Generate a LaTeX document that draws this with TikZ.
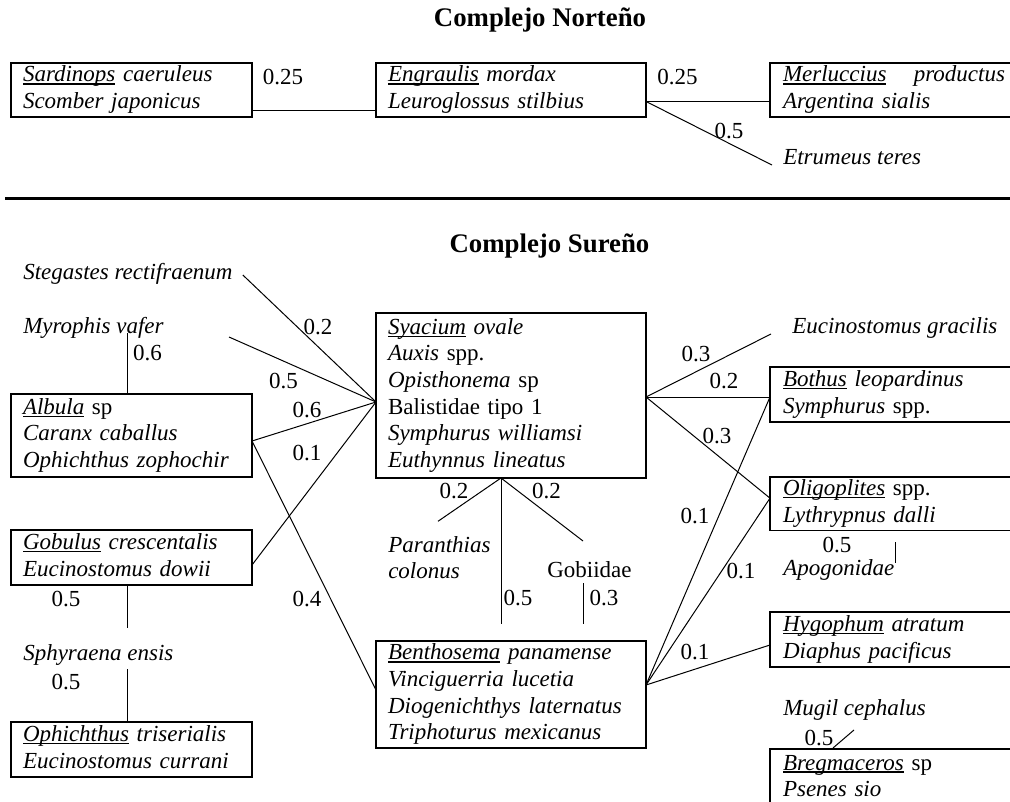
\documentclass[tikz,border=0pt]{standalone}
\usepackage{fontspec}
\setmainfont{Liberation Serif}
\usetikzlibrary{calc}
\newcommand\ulx[1]{\setbox0\hbox{#1}\rlap{\rule[-2pt]{\wd0}{0.9pt}}\box0\relax}
\begin{document}
\begin{tikzpicture}[x=0.75pt,y=-0.75pt,
  font=\fontsize{17.25}{20}\selectfont,
  box/.style={draw, line width=1pt, rectangle, anchor=north west, inner xsep=9pt, inner ysep=0pt, outer sep=0pt, align=left},
  lbox/.style={box, text width=162.75pt},
  cbox/.style={box, text width=184.5pt},
  rbox/.style={box, inner xsep=9.75pt, text width=175.5pt},
  lab/.style={inner sep=0pt, anchor=center},
  sp/.style={inner sep=0pt, anchor=base west},
  con/.style={line width=0.75pt},
  title/.style={font=\fontsize{20.1}{24}\selectfont\bfseries, inner sep=0pt}]
\useasboundingbox (0,0) rectangle (1010,802);
\clip (0,0) rectangle (1010,802);

% ---------- Complejo Norteno ----------
\node[title] (t1) at (540,20) {Complejo Norteño};
\node[lbox, minimum height=40.5pt] (sard) at (11,63) {\strut\textit{\ulx{Sardinops} caeruleus}\\\textit{Scomber japonicus}\strut};
\node[cbox, minimum height=40.5pt] (engr) at (376,63) {\strut\textit{\ulx{Engraulis} mordax}\\\textit{Leuroglossus stilbius}\strut};
\node[rbox, minimum height=40.5pt] (merl) at (770,63) {\strut\textit{\makebox[166.5pt][l]{\ulx{Merluccius}\hfill productus}}\\\textit{Argentina sialis}\strut};
\node[sp] (etru) at (783,165) {\textit{Etrumeus teres}};

\draw[con] ($(sard.south east)+(0,-6)$) -- ($(engr.south west)+(0,-6)$);
\draw[con] ($(engr.south east)+(0,-15)$) -- ($(merl.south west)+(0,-15)$);
\draw[con] ($(engr.south east)+(1,-15)$) -- ($(etru.base west)+(-11,0)$);

\node[lab] (n1) at (283,77) {0.25};
\node[lab] (n2) at (677.5,77) {0.25};
\node[lab] (n3) at (729,131) {0.5};

\draw[line width=2.25pt] (5,198.3) -- (1020,198.3);

% ---------- Complejo Sureno ----------
\node[title] (t2) at (549.5,246) {Complejo Sureño};
\node[cbox, minimum height=123.75pt] (sy) at (376,313) {\strut\textit{\ulx{Syacium} ovale}\\\textit{Auxis} spp.\\\textit{Opisthonema} sp\\Balistidae tipo 1\\\textit{Symphurus williamsi}\\\textit{Euthynnus lineatus}\strut};
\coordinate (syL) at ($(sy.west)+(0,6.5)$);
\coordinate (syR) at ($(sy.east)+(0,1.5)$);
\coordinate (syB) at ($(sy.south)+(-10,0)$);

% left
\node[sp] (steg) at (23,280) {\textit{Stegastes rectifraenum}};
\node[sp] (myro) at (23,333) {\textit{Myrophis vafer}};
\node[lbox, minimum height=62.25pt] (alb) at (11,394) {\strut\textit{\ulx{Albula}} sp\\\textit{Caranx caballus}\\\textit{Ophichthus zophochir}\strut};
\node[lbox, minimum height=41.25pt] (gob) at (11,530) {\strut\textit{\ulx{Gobulus} crescentalis}\\\textit{Eucinostomus dowii}\strut};
\node[sp] (sphy) at (23,660) {\textit{Sphyraena ensis}};
\node[lbox, minimum height=41.25pt] (oph) at (11,722) {\strut\textit{\ulx{Ophichthus} triserialis}\\\textit{Eucinostomus currani}\strut};

% center bottom
\node[anchor=north west, inner sep=0pt, align=left] (para) at (388,533.3) {\strut\textit{Paranthias}\\\textit{colonus}};
\node[sp] (gobi) at (547,577) {Gobiidae};
\node[cbox, minimum height=80.25pt] (bentho) at (376,641) {\strut\textit{\ulx{Benthosema} panamense}\\\textit{Vinciguerria lucetia}\\\textit{Diogenichthys laternatus}\\\textit{Triphoturus mexicanus}\strut};
\coordinate (bR) at ($(bentho.east)+(0,-9.5)$);

% right
\node[sp] (eucg) at (792,333) {\textit{Eucinostomus gracilis}};
\node[rbox, minimum height=41.25pt] (both) at (770,367) {\strut\textit{\ulx{Bothus} leopardinus}\\\textit{Symphurus} spp.\strut};
\node[rbox, minimum height=39.75pt] (olig) at (770,477) {\strut\textit{\ulx{Oligoplites}} spp.\\\textit{Lythrypnus dalli}\strut};
\node[sp] (apog) at (783,575) {\textit{Apogonidae}};
\node[rbox, minimum height=41.25pt] (hyg) at (770,612) {\strut\textit{\ulx{Hygophum} atratum}\\\textit{Diaphus pacificus}\strut};
\node[sp] (mugil) at (783,715) {\textit{Mugil cephalus}};
\node[rbox, minimum height=43.5pt] (breg) at (770,749) {\strut\textit{\ulx{Bregmaceros}} sp\\\textit{Psenes sio}\strut};
\coordinate (bothP) at ($(both.west)+(0,2.5)$);
\coordinate (oligP) at ($(olig.west)+(0,-5.5)$);

% connectors left
\draw[con] ($(steg.base east)+(10,-5)$) -- (syL);
\draw[con] ($(myro.base west)+(206,4)$) -- (syL);
\draw[con] ($(alb.east)+(0,5.5)$) -- (syL);
\draw[con] ($(gob.east)+(0,7.5)$) -- (syL);
\draw[con] ($(alb.east)+(0,5.5)$) -- ($(bentho.west)+(0,-4.5)$);
\draw[con] ($(myro.base west)+(104,0)$) -- ($(alb.north)+(-4.5,0)$);
\draw[con] ($(gob.south)+(-4.5,0)$) -- ($(sphy.base west)+(104,-32)$);
\draw[con] ($(sphy.base west)+(104,9)$) -- ($(oph.north)+(-4.5,0)$);

% connectors center
\draw[con] (syB) -- ($(para.north west)+(50,-12)$);
\draw[con] (syB) -- ($(gobi.base west)+(36,-36)$);
\draw[con] (syB) -- ($(bentho.north)+(-10,-17)$);
\draw[con] ($(gobi.base west)+(36,6)$) -- ($(bentho.north)+(72,-17)$);

% connectors right
\draw[con] (syR) -- ($(eucg.base west)+(-21,1)$);
\draw[con] (syR) -- (bothP);
\draw[con] (syR) -- (oligP);
\draw[con] (bR) -- (bothP);
\draw[con] (bR) -- (oligP);
\draw[con] (bR) -- ($(hyg.west)+(0,5.5)$);
\draw[con] ($(apog.base west)+(112,-33)$) -- ($(apog.base west)+(112,-12)$);
\draw[con] ($(breg.north west)+(63,-1)$) -- ($(mugil.base west)+(71,15)$);

% labels
\node[lab] (s1) at (318,327) {0.2};
\node[lab] (s2) at (147.5,353) {0.6};
\node[lab] (s3) at (283.5,381) {0.5};
\node[lab] (s4) at (307,410) {0.6};
\node[lab] (s5) at (307,453) {0.1};
\node[lab] (s6) at (307,599) {0.4};
\node[lab] (s7) at (66,599) {0.5};
\node[lab] (s8) at (66,682.5) {0.5};
\node[lab] (s9) at (454,491) {0.2};
\node[lab] (s10) at (546.5,491) {0.2};
\node[lab] (s11) at (518,598.5) {0.5};
\node[lab] (s12) at (604,598.5) {0.3};
\node[lab] (s13) at (696,354) {0.3};
\node[lab] (s14) at (724,381) {0.2};
\node[lab] (s15) at (717,436) {0.3};
\node[lab] (s16) at (695,516) {0.1};
\node[lab] (s17) at (837,545) {0.5};
\node[lab] (s18) at (741,571) {0.1};
\node[lab] (s19) at (695,652.5) {0.1};
\node[lab] (s20) at (819,738) {0.5};
\end{tikzpicture}
\end{document}
